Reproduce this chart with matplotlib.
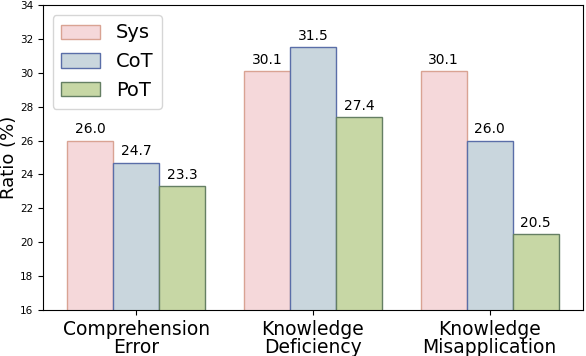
import numpy as np
import matplotlib
matplotlib.use('Agg')
import matplotlib.pyplot as plt

categories = ['Comprehension\nError', 'Knowledge\nDeficiency', 'Knowledge\nMisapplication']
series = ['Sys', 'CoT', 'PoT']
sys_vals = [26.0, 30.1, 30.1]
cot_vals = [24.7, 31.5, 26.0]
pot_vals = [23.3, 27.4, 20.5]

faces = ['#f5d8da', '#c9d6dd', '#c7d7a5']
edges = ['#d9a393', '#5a6ea8', '#657f63']

fig = plt.figure(figsize=(5.86, 3.56), dpi=100)
ax = fig.add_axes([0.073, 0.129, 0.922, 0.857])

x = np.arange(len(categories))
w = 0.26
for i, (name, vals) in enumerate(zip(series, [sys_vals, cot_vals, pot_vals])):
    bars = ax.bar(x + (i - 1) * w, vals, w, color=faces[i], edgecolor=edges[i],
                  linewidth=1.0, label=name)
    for b, v in zip(bars, vals):
        ax.text(b.get_x() + b.get_width() / 2, v + 0.25, '%.1f' % v,
                ha='center', va='bottom', fontsize=10)

ax.set_ylim(16, 34)
ax.set_yticks(np.arange(16, 35, 2))
ax.tick_params(axis='y', labelsize=7.5)
ax.set_xticks(x)
ax.set_xticklabels(categories, fontsize=13.5, linespacing=0.95)
ax.set_ylabel('Ratio (%)', fontsize=13, labelpad=1)
ax.legend(loc='upper left', fontsize=14, handlelength=2.0, handleheight=0.75,
          borderaxespad=0.5, labelspacing=0.5, borderpad=0.45)

fig.savefig('out.png', dpi=100)
